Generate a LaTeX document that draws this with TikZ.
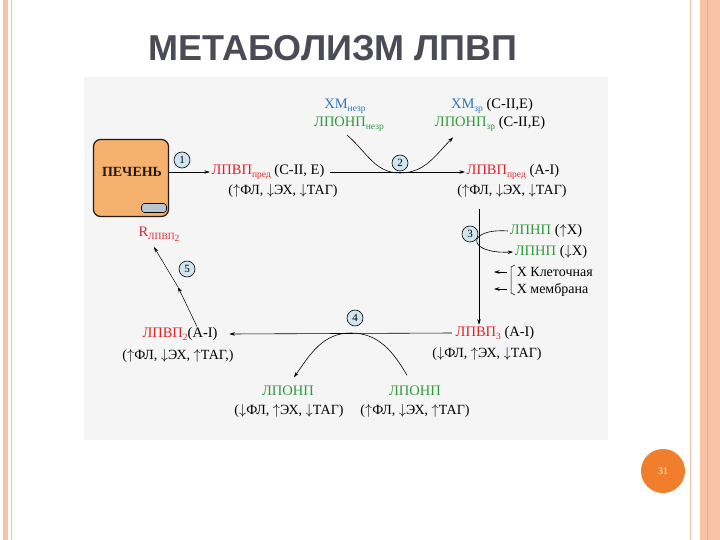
\documentclass[tikz,border=0pt]{standalone}
\usepackage{fontspec}
\setmainfont{Liberation Serif}
\newfontfamily\headfont{Liberation Sans}
\usetikzlibrary{arrows.meta}
\definecolor{hdlred}{HTML}{E0232B}
\definecolor{vgreen}{HTML}{2E9B3C}
\definecolor{xmblue}{HTML}{2B78BE}
\definecolor{edge}{HTML}{F9C2A6}
\definecolor{edgedark}{HTML}{F2A584}
\definecolor{liverfill}{HTML}{F4B26E}
\definecolor{stepfill}{HTML}{CFE6F1}
\definecolor{pagenum}{HTML}{F07E2C}
\definecolor{titlegray}{HTML}{4A4B56}
\newcommand\hdl[1]{\textcolor{hdlred}{#1}}
\newcommand\vld[1]{\textcolor{vgreen}{#1}}
\newcommand\chm[1]{\textcolor{xmblue}{#1}}
\newcommand\sbs[1]{\raisebox{-.45ex}{\fontsize{9.5}{10}\selectfont #1}}
\newcommand\arrUp{$\uparrow$}
\newcommand\arrDn{$\downarrow$}
\tikzset{
  stepnum/.style={circle,draw,fill=stepfill,inner sep=0pt,minimum size=16pt,font=\fontsize{11}{11}\selectfont},
  head/.style={inner sep=1.5pt,font=\fontsize{14.5}{15}\selectfont},
  comp/.style={inner sep=1.5pt,font=\fontsize{14}{15}\selectfont},
}

\begin{document}
\begin{tikzpicture}[x=1pt,y=-1pt,line width=.6pt,>={Stealth[length=5.5pt,width=3.5pt]}]
\useasboundingbox (0,0) rectangle (720,540);
% slide frame
\fill[edge] (3,0) rectangle (8,540);
\draw[edge,line width=.8pt] (11.5,0)--(11.5,540);
\draw[edge,line width=1pt] (690,0)--(690,540);
\fill[edge] (700,0) rectangle (720,540);
\draw[edgedark,line width=.8pt] (707,0)--(707,540);
\node[text=titlegray,font=\headfont\bfseries\fontsize{36}{36}\selectfont] (ttl) at (333,48) {МЕТАБОЛИЗМ ЛПВП};
\fill[black!4] (84,77) rectangle (608,440);
\node[circle,fill=pagenum,minimum size=44pt,text=white,font=\fontsize{10}{10}\selectfont] (pg) at (663,471) {31};

% liver
\node[draw=black!80!brown,fill=liverfill,rounded corners=7pt,minimum width=75pt,minimum height=77pt,line width=1.2pt] (liv) at (131,178) {};
\node[font=\bfseries\fontsize{14}{14}\selectfont,text=black!80!brown] (livname) at (132,172) {ПЕЧЕНЬ};
\node[draw,fill=stepfill!70!gray,rounded corners=3pt,minimum width=25pt,minimum height=9pt,inner sep=0pt] (pill) at (154,208) {};

% labels
\node[head] (pre) at (268,172) {\hdl{ЛПВП\sbs{пред}} (C-II, E)};
\node[comp] (preC) at (283,191) {(\arrUp ФЛ, \arrDn ЭХ, \arrDn ТАГ)};
\node[head] (xmn) at (345,106) {\chm{ХМ\sbs{незр}}};
\node[head] (lpn) at (349,124) {\vld{ЛПОНП\sbs{незр}}};
\node[head] (xmz) at (492,106) {\chm{ХМ\sbs{зр}} (C-II,E)};
\node[head] (lpz) at (490,124) {\vld{ЛПОНП\sbs{зр}} (C-II,E)};
\node[head] (preA) at (513,172) {\hdl{ЛПВП\sbs{пред}} (A-I)};
\node[comp] (preAC) at (512,191) {(\arrUp ФЛ, \arrDn ЭХ, \arrDn ТАГ)};
\node[head] (ldl1) at (546,231) {\vld{ЛПНП} (\arrUp X)};
\node[head] (ldl2) at (551,252) {\vld{ЛПНП} (\arrDn X)};
\node[comp,anchor=west] (cel) at (515,272) {X Клеточная};
\node[comp,anchor=west] (mem) at (515,290) {X мембрана};
\node[head] (h3) at (495,333) {\hdl{ЛПВП\sbs{3}} (A-I)};
\node[comp] (h3C) at (487,354) {(\arrDn ФЛ, \arrUp ЭХ, \arrDn ТАГ)};
\node[head] (h2) at (180,334) {\hdl{ЛПВП\sbs{2}}(A-I)};
\node[comp] (h2C) at (178,356) {(\arrUp ФЛ, \arrDn ЭХ, \arrUp ТАГ,)};
\node[head] (v1) at (288,391) {\vld{ЛПОНП}};
\node[comp] (v1C) at (289,411) {(\arrDn ФЛ, \arrUp ЭХ, \arrDn ТАГ)};
\node[head] (v2) at (415,391) {\vld{ЛПОНП}};
\node[comp] (v2C) at (415,411) {(\arrUp ФЛ, \arrDn ЭХ, \arrUp ТАГ)};
\node[head] (rcp) at (159,234) {\hdl{R\sbs{ЛПВП\sbs{2}}}};

% steps
\node[stepnum] (s1) at (182,160) {1};
\node[stepnum] (s2) at (400,163) {2};
\node[stepnum] (s3) at (470,234) {3};
\node[stepnum] (s4) at (355,318) {4};
\node[stepnum] (s5) at (187,269) {5};

% connectors
\coordinate (t2) at (400,173);
\coordinate (t4) at (351,333);
\coordinate (top3) at (479,209);
\coordinate (m5) at (178,287);
\coordinate (a1) at (507,272);
\coordinate (a1e) at (494,272);
\coordinate (a2) at (507,289);
\coordinate (a2e) at (494,289);
\draw[->] (liv.east |- pre) -- (pre.west);
\draw[->,shorten <=4pt] (pre.east) -- (preA.west);
\draw[->] ([xshift=-2pt,yshift=-2pt]lpn.south) to[out=-40,in=180] (t2) to[out=0,in=-135] ([xshift=20pt,yshift=-4pt]lpz.south west);
\draw[->,line width=.5pt] (top3) -- (h3.north -| top3);
\draw[->] (ldl1.west) .. controls (466,228) and (466,254) .. (ldl2.west);
\draw[line width=.5pt] (515,265) -- (511,267) -- (511,293) -- (515,295);
\draw[->,line width=.5pt] (a1) -- (a1e);
\draw[->,line width=.5pt] (a2) -- (a2e);
\draw[->,shorten <=2pt] (h3.west) -- ([xshift=10pt]h2.east);
\draw[->] ([xshift=-8pt,yshift=9pt]v2.north) to[out=120,in=0] (t4) to[out=180,in=55] ([xshift=6pt,yshift=7pt]v1.north);
\draw[->,line width=.5pt] ([xshift=17pt,yshift=-1pt]h2.north) -- (m5);
\draw[->,line width=.5pt] (m5) -- ([xshift=-5pt,yshift=-4pt]rcp.south);
\end{tikzpicture}
\end{document}
